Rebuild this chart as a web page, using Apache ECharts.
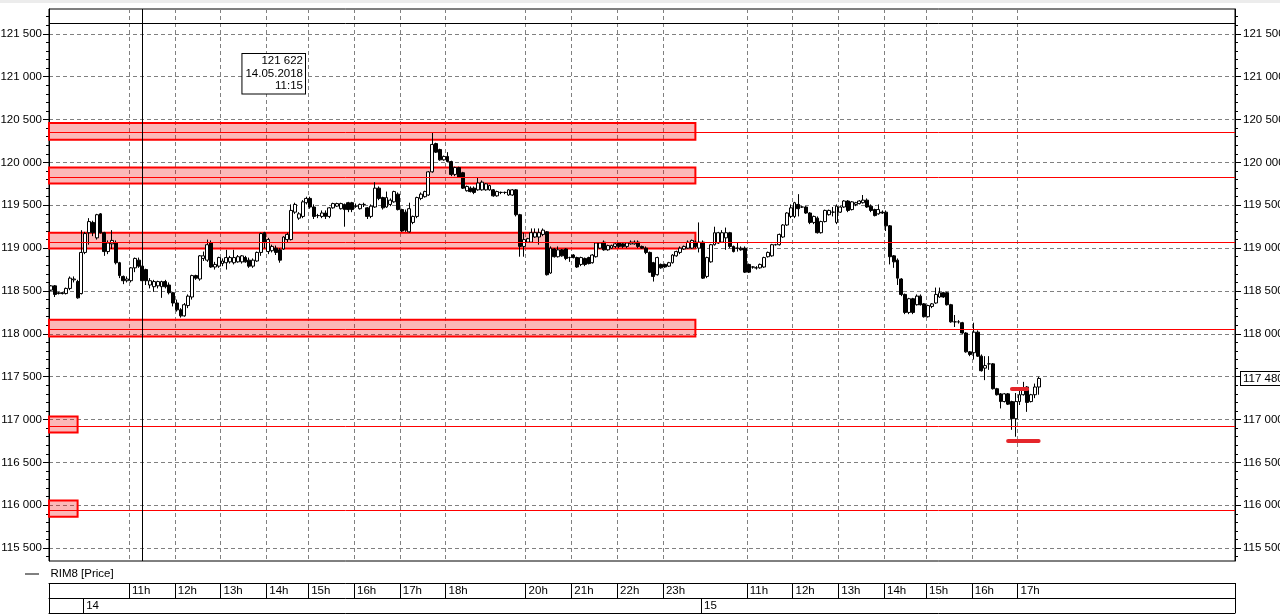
<!DOCTYPE html>
<html><head><meta charset="utf-8">
<script src="https://cdn.jsdelivr.net/npm/echarts@6/dist/echarts.min.js"></script>
<style>html,body{margin:0;padding:0;background:#fff}#c{width:1280px;height:614px}</style>
</head><body><div id="c"></div>
<script>
// hour blocks of 5-minute bars: [date, hour, first minute, last minute]
const hourBlocks = [
  ['11.05', 23, 5, 45],
  ['14.05', 10, 0, 55], ['14.05', 11, 0, 55], ['14.05', 12, 0, 55], ['14.05', 13, 0, 55],
  ['14.05', 14, 5, 55], ['14.05', 15, 0, 55], ['14.05', 16, 0, 55], ['14.05', 17, 0, 55],
  ['14.05', 18, 0, 40], ['14.05', 19, 0, 55], ['14.05', 20, 0, 55], ['14.05', 21, 0, 55],
  ['14.05', 22, 0, 55], ['14.05', 23, 0, 45],
  ['15.05', 10, 0, 55], ['15.05', 11, 0, 55], ['15.05', 12, 0, 55], ['15.05', 13, 0, 55],
  ['15.05', 14, 5, 55], ['15.05', 15, 0, 55], ['15.05', 16, 0, 55], ['15.05', 17, 0, 55],
  ['15.05', 18, 0, 40], ['15.05', 19, 0, 55], ['15.05', 20, 0, 55], ['15.05', 21, 0, 55]
];
const pad2 = n => (n < 10 ? '0' : '') + n;
const categories = [];
hourBlocks.forEach(([d, h, m0, m1]) => { for (let m = m0; m <= m1; m += 5) categories.push(d + ' ' + pad2(h) + ':' + pad2(m)); });

const hourLabels = [
  ['14.05 11:00', '11h'], ['14.05 12:00', '12h'], ['14.05 13:00', '13h'], ['14.05 14:05', '14h'],
  ['14.05 15:00', '15h'], ['14.05 16:00', '16h'], ['14.05 17:00', '17h'], ['14.05 18:00', '18h'],
  ['14.05 20:00', '20h'], ['14.05 21:00', '21h'], ['14.05 22:00', '22h'], ['14.05 23:00', '23h'],
  ['15.05 11:00', '11h'], ['15.05 12:00', '12h'], ['15.05 13:00', '13h'], ['15.05 14:05', '14h'],
  ['15.05 15:00', '15h'], ['15.05 16:00', '16h'], ['15.05 17:00', '17h']
];
const dateLabels = [['14.05 10:00', '14'], ['15.05 10:00', '15']];

// [open, close, low, high]
const ohlc = [
[118510,118560,118500,118570],[118560,118460,118430,118570],[118480,118470,118460,118490],[118470,118480,118460,118490],[118470,118530,118460,118540],[118530,118650,118510,118670],[118630,118640,118600,118670],[118610,118420,118410,118630],[118470,118950,118460,119210],
[118950,119170,118930,119190],[119180,119310,119040,119350],[119300,119180,119140,119320],[119120,119390,119100,119400],[119400,119180,119170,119410],[119180,118960,118910,119190],[118960,119060,118930,119090],[119050,119090,118990,119210],[119060,118830,118810,119090],[118830,118680,118650,118840],[118670,118620,118580,118680],[118620,118640,118600,118670],
[118620,118770,118600,118780],[118770,118880,118720,118890],[118860,118790,118770,118890],[118790,118620,118610,118820],[118750,118620,118570,118760],[118570,118620,118530,118650],[118550,118610,118490,118630],[118560,118610,118530,118620],[118550,118610,118420,118620],[118610,118550,118530,118630],[118570,118480,118460,118600],[118480,118360,118320,118490],
[118360,118280,118260,118400],[118280,118210,118190,118300],[118210,118340,118200,118360],[118330,118440,118300,118460],[118430,118680,118400,118690],[118680,118650,118630,118690],[118640,118910,118620,118920],[118880,118910,118850,118960],[118860,119040,118840,119100],[119060,118780,118770,119090],[118780,118810,118750,118840],[118790,118890,118770,118900],
[118820,118850,118790,118880],[118830,118890,118750,118980],[118840,118890,118820,118910],[118830,118890,118810,118980],[118840,118900,118830,118920],[118840,118910,118820,118920],[118890,118840,118830,118910],[118860,118790,118770,118890],[118790,118860,118770,118880],[118850,118950,118840,118960],[118950,119170,118910,119180],[119180,119070,119000,119190],
[118960,119100,118930,119120],[118970,119020,118950,119040],[119000,118950,118920,119030],[118980,118860,118830,119000],[118990,119130,118980,119140],[119100,119160,119070,119180],[119100,119440,119090,119510],[119420,119510,119400,119530],[119350,119400,119330,119420],[119370,119540,119350,119560],[119530,119580,119510,119600],
[119580,119480,119460,119600],[119480,119370,119340,119510],[119380,119380,119350,119400],[119370,119410,119350,119440],[119410,119370,119340,119440],[119370,119470,119350,119480],[119470,119520,119460,119530],[119490,119520,119480,119530],[119460,119520,119450,119530],[119510,119450,119250,119520],[119530,119450,119420,119540],[119530,119450,119420,119540],
[119490,119490,119470,119520],[119460,119510,119450,119520],[119510,119510,119480,119530],[119470,119370,119340,119480],[119370,119490,119350,119510],[119480,119700,119470,119770],[119700,119580,119560,119720],[119590,119470,119450,119600],[119480,119590,119470,119660],[119510,119560,119490,119580],[119540,119660,119530,119670],[119630,119450,119440,119650],
[119450,119200,119190,119460],[119420,119210,119190,119450],[119190,119460,119180,119530],[119300,119370,119280,119380],[119370,119590,119350,119600],[119580,119630,119560,119650],[119600,119660,119590,119670],[119620,119890,119610,119900],[119890,120210,119880,120350],[120220,120120,120110,120230],[120150,120030,120020,120160],[120030,120070,120020,120080],
[120070,120010,120000,120120],[120010,119860,119840,120020],[119860,119940,119840,119950],[119940,119830,119820,119950],[119880,119700,119690,119890],[119670,119720,119660,119730],[119700,119660,119650,119720],[119700,119650,119630,119720],[119680,119760,119670,119820],
[119680,119770,119670,119790],[119680,119750,119670,119760],[119680,119730,119670,119740],[119680,119610,119600,119690],[119610,119660,119600,119670],[119650,119650,119630,119660],[119650,119650,119630,119660],[119620,119680,119610,119690],[119620,119680,119610,119690],[119680,119390,119370,119690],[119390,119020,118900,119400],[119020,119100,118900,119180],
[119070,119110,119060,119120],[119070,119180,119060,119230],[119130,119180,119120,119230],[119130,119180,119040,119230],[119160,119210,119140,119230],[119190,118690,118680,119200],[118710,119000,118700,119020],[118990,118900,118890,119000],[118900,118980,118890,119020],[118980,118910,118900,118990],[118990,118880,118860,119000],[118890,118890,118840,118900],
[118920,118890,118880,118930],[118890,118780,118770,118900],[118810,118890,118790,118900],[118880,118810,118790,118890],[118890,118820,118810,118900],[118830,118920,118820,118930],[118900,119060,118890,119070],[119000,119060,118990,119070],[119070,118980,118970,119090],[118980,119030,118970,119040],[119000,119030,118990,119040],[119020,119050,119000,119060],
[119060,119020,119000,119070],[119050,119020,119000,119060],[119020,119060,119000,119070],[119050,119070,119040,119090],[119050,119070,119040,119090],[119070,119020,119000,119090],[119020,119000,118990,119030],[119000,118950,118930,119020],[118950,118720,118710,118960],[118830,118670,118610,118840],[118690,118890,118680,118900],[118810,118770,118760,118820],
[118810,118780,118770,118820],[118790,118830,118780,118840],[118830,118920,118820,118930],[118910,118960,118900,118970],[118950,119000,118930,119020],[118990,119020,118980,119030],[119000,119070,118990,119090],[119000,119090,118990,119100],[119070,119020,119000,119090],[119000,119070,118950,119300],
[119070,118650,118640,119090],[118670,118890,118650,118900],[118840,119040,118830,119050],[119040,119180,119030,119250],[119060,119180,119050,119190],[119070,119180,119060,119210],[119120,119180,118980,119240],[119180,119020,119000,119190],[119020,118960,118950,119030],[119000,119000,118960,119070],[119000,118980,118970,119020],[119000,118720,118710,119020],
[118810,118720,118710,118820],[118780,118780,118760,118790],[118770,118770,118750,118790],[118770,118810,118760,118820],[118780,118890,118770,118900],[118900,118950,118890,118960],[118910,119040,118900,119050],[119040,119040,119030,119050],[119040,119160,119030,119170],[119130,119270,119120,119280],[119270,119410,119260,119420],[119370,119470,119350,119510],
[119370,119530,119350,119540],[119510,119460,119370,119630],[119480,119480,119470,119490],[119480,119410,119400,119490],[119410,119300,119280,119420],[119300,119370,119280,119380],[119350,119180,119170,119370],[119180,119310,119170,119320],[119310,119440,119300,119450],[119390,119440,119380,119450],[119420,119420,119370,119480],[119300,119490,119280,119510],
[119420,119480,119410,119490],[119480,119550,119470,119560],[119550,119440,119420,119560],[119450,119540,119440,119550],[119510,119530,119490,119540],[119520,119550,119510,119560],[119530,119560,119520,119620],[119560,119480,119470,119580],[119490,119440,119420,119510],[119450,119380,119370,119460],[119400,119450,119390,119510],[119420,119410,119400,119440],
[119420,119260,119200,119440],[119260,118900,118810,119270],[118910,118840,118770,118920],[118860,118650,118570,118880],[118640,118460,118440,118650],[118460,118250,118230,118470],[118250,118410,118230,118420],[118410,118250,118230,118420],[118340,118440,118330,118460],[118440,118340,118330,118460],[118350,118200,118190,118360],
[118200,118330,118190,118340],[118320,118350,118300,118360],[118360,118460,118350,118540],[118430,118480,118420,118540],[118480,118430,118420,118490],[118480,118340,118330,118490],[118340,118140,118130,118350],[118140,118140,118080,118220],[118140,118140,118120,118160],[118130,118010,118000,118140],[118010,117790,117780,118020],[117790,117760,117740,117800],
[117780,118020,117700,118130],[118020,117740,117730,118040],[117740,117570,117560,117760],[117600,117630,117460,117740],[117650,117650,117580,117740],[117650,117360,117350,117660],[117360,117290,117280,117370],[117300,117210,117130,117310],[117210,117300,117200,117310],[117300,117180,117170,117310],[117210,117010,116880,117220],[117010,117210,116800,117310],
[117210,117290,117170,117370],[117290,117350,117280,117440],[117380,117200,117090,117390],[117210,117290,117200,117300],[117290,117380,117250,117420],[117380,117480,117290,117500]
];

const yMin = 115350, yMax = 121790;
const majorTicks = [115500,116000,116500,117000,117500,118000,118500,119000,119500,120000,120500,121000,121500];
const minorTicks = [115400,115600,115700,115800,115900,116100,116200,116300,116400,116600,116700,116800,116900,117100,117200,117300,117400,117600,117700,117800,117900,118100,118200,118300,118400,118600,118700,118800,118900,119100,119200,119300,119400,119600,119700,119800,119900,120100,120200,120300,120400,120600,120700,120800,120900,121100,121200,121300,121400,121600,121700];
const lastPrice = [117480];

// zones: [top, bottom, last category]
const zones = [
  [120460, 120265, '14.05 23:40'],
  [119940, 119755, '14.05 23:40'],
  [119180, 118995, '14.05 23:40'],
  [118165, 117970, '14.05 23:40'],
  [117035, 116850, '11.05 23:40'],
  [116055, 115865, '11.05 23:40']
];
const levels = [120350, 119830, 119070, 118055, 116920, 115940];
const crossValue = 121622, crossTime = '14.05 11:15';
const crossLabel = ['121 622', '14.05.2018', '11:15'];
const marks = [['15.05 16:50', '15.05 17:10', 117360], ['15.05 16:45', '15.05 17:25', 116750]];

const FONT = '"Liberation Sans", Arial, sans-serif';
const fmt = v => String(v).replace(/\B(?=(\d{3})+(?!\d))/g, ' ');
const hourIdx = new Map(hourLabels.map(([c, t]) => [categories.indexOf(c), t]));
const dateIdx = new Map(dateLabels.map(([c, t]) => [categories.indexOf(c), t]));
const gridDash = { color: '#808080', width: 1, type: [4, 3] };
const black = { color: '#000', width: 1 };
const txt = { color: '#000', fontSize: 11.5, fontFamily: FONT };

function tableAxis(offset, idxMap, showTicks) {
  return {
    type: 'category', data: categories, position: 'bottom', offset: offset,
    axisLine: { show: true, onZero: false, lineStyle: black },
    axisTick: { show: showTicks, length: 15, interval: i => i === 0 || idxMap.has(i), lineStyle: black },
    axisLabel: Object.assign({ show: showTicks, interval: i => idxMap.has(i), formatter: (v, i) => idxMap.get(i) || '', align: 'left', margin: 2, padding: [0, 0, 0, 1] }, txt),
    splitLine: { show: false }
  };
}

const chart = echarts.init(document.getElementById('c'), null, { renderer: 'canvas' });
chart.setOption({
  animation: false,
  backgroundColor: '#fff',
  textStyle: { fontFamily: FONT },
  grid: { left: 49, right: 45, top: 9, bottom: 53, show: true, borderColor: '#000', borderWidth: 1, containLabel: false, outerBoundsMode: 'none' },
  legend: {
    left: 25, top: 568, padding: 0, itemWidth: 14, itemHeight: 1, icon: 'rect', selectedMode: false,
    data: [{ name: 'RIM8 [Price]', itemStyle: { color: '#000', borderWidth: 0 } }],
    formatter: n => '  ' + n, textStyle: txt
  },
  xAxis: [
    { type: 'category', data: categories, position: 'bottom', axisLine: { show: false, onZero: false }, axisTick: { show: false }, axisLabel: { show: false },
      splitLine: { show: true, interval: i => hourIdx.has(i), lineStyle: gridDash } },
    tableAxis(22, hourIdx, true),
    tableAxis(37, dateIdx, true),
    tableAxis(52, new Map(), false)
  ],
  yAxis: [
    { type: 'value', position: 'left', min: yMin, max: yMax, axisLine: { show: true, lineStyle: black },
      axisTick: { show: true, length: 6, customValues: majorTicks, lineStyle: black },
      axisLabel: Object.assign({ customValues: majorTicks, formatter: fmt, margin: 7 }, txt),
      splitLine: { show: true, lineStyle: gridDash } },
    { type: 'value', position: 'right', min: yMin, max: yMax, axisLine: { show: true, lineStyle: black },
      axisTick: { show: true, length: 6, customValues: majorTicks, lineStyle: black },
      axisLabel: Object.assign({ customValues: majorTicks, formatter: fmt, margin: 8 }, txt),
      splitLine: { show: false } },
    { type: 'value', position: 'left', min: yMin, max: yMax, axisLine: { show: false },
      axisTick: { show: true, length: 3, customValues: minorTicks, lineStyle: black }, axisLabel: { show: false }, splitLine: { show: false } },
    { type: 'value', position: 'right', min: yMin, max: yMax, axisLine: { show: false },
      axisTick: { show: true, length: 3, customValues: minorTicks, lineStyle: black }, axisLabel: { show: false }, splitLine: { show: false } },
    { type: 'value', position: 'right', min: yMin, max: yMax, axisLine: { show: false }, axisTick: { show: false },
      axisLabel: Object.assign({ customValues: lastPrice, formatter: fmt, margin: 6, backgroundColor: '#fff', borderColor: '#000', borderWidth: 1, padding: [1, 2, 0, 2] }, txt),
      splitLine: { show: false } }
  ],
  graphic: [
    { type: 'rect', silent: true, shape: { x: 0, y: 0, width: 1280, height: 3 }, style: { fill: '#ececec' } },
    { type: 'text', silent: true, x: 305, y: 54, z: 100,
      style: { text: crossLabel.join('\n'), align: 'right', verticalAlign: 'top', fill: '#000', font: '11.5px ' + FONT, lineHeight: 12.5,
               backgroundColor: '#fff', borderColor: '#000', borderWidth: 1, padding: [1, 2, 1, 3] } }
  ],
  series: [{
    type: 'candlestick', name: 'RIM8 [Price]', data: ohlc, xAxisIndex: 0, yAxisIndex: 0, barWidth: 3.4,
    itemStyle: { color: '#fff', color0: '#000', borderColor: '#000', borderColor0: '#000', borderWidth: 1 },
    markArea: {
      silent: true, label: { show: false },
      itemStyle: { color: 'rgba(242,0,0,0.28)', borderColor: '#ff0000', borderWidth: 2 },
      data: zones.map(z => [{ yAxis: z[0] }, { xAxis: z[2], yAxis: z[1] }])
    },
    markLine: {
      silent: true, symbol: ['none', 'none'], label: { show: false }, animation: false,
      data: [
        ...levels.map(v => ({ yAxis: v, lineStyle: { color: '#ff0000', width: 1, type: 'solid' } })),
        { yAxis: crossValue, lineStyle: { color: '#000', width: 1, type: 'solid' } },
        { xAxis: crossTime, lineStyle: { color: '#000', width: 1, type: 'solid' } },
        ...marks.map(m => [
          { xAxis: m[0], yAxis: m[2], lineStyle: { color: '#e5262b', width: 4, type: 'solid', cap: 'round' } },
          { xAxis: m[1], yAxis: m[2], lineStyle: { color: '#e5262b', width: 4, type: 'solid', cap: 'round' } }
        ])
      ]
    }
  }]
});
</script>
</body></html>
